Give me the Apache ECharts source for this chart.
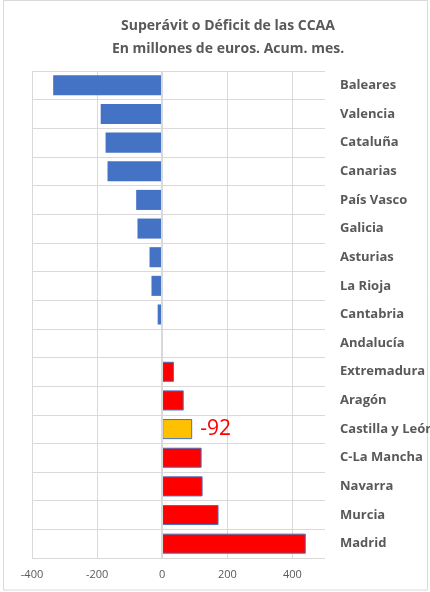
<!DOCTYPE html>
<html><head><meta charset="utf-8">
<script src="https://cdn.jsdelivr.net/npm/echarts@6/dist/echarts.min.js"></script>
<style>html,body{margin:0;padding:0;background:#fff}#c{width:430px;height:592px}</style>
</head><body><div id="c"></div>
<script>
const titleLines = ['Superávit o Déficit de las CCAA', 'En millones de euros. Acum. mes.'];
const categories = ['Baleares','Valencia','Cataluña','Canarias','País Vasco','Galicia','Asturias','La Rioja','Cantabria','Andalucía','Extremadura','Aragón','Castilla y León','C-La Mancha','Navarra','Murcia','Madrid'];
const values = [-335,-189,-174,-168,-80,-76,-39,-33,-14,0,36,66,92,121,124,173,441];
const highlightCategory = 'Castilla y León';
const highlightLabel = '-92';
const xTicks = [-400,-200,0,200,400];

const FONT = '"Open Sans", sans-serif';
const chart = echarts.init(document.getElementById('c'), null, {renderer:'canvas'});
const data = values.map((v,i) => {
  const cat = categories[i];
  let style;
  if (cat === highlightCategory) style = {color:'#FFC000', borderColor:'#4472C4', borderWidth:1};
  else if (v > 0) style = {color:'#FF0000', borderColor:'#4472C4', borderWidth:1};
  else style = {color:'#4472C4'};
  const d = {value: v, itemStyle: style};
  if (cat === highlightCategory) d.label = {show:true, position:'right', distance:8, formatter: highlightLabel, color:'#FF0000', fontSize:21, fontFamily:FONT};
  return d;
});
chart.setOption({
  animation:false,
  backgroundColor:'#fff',
  title:{text: titleLines.join('\n'), left:223, textAlign:'center', top:10,
    textStyle:{fontFamily:FONT, fontSize:14, fontWeight:'bold', color:'#595959', lineHeight:23}},
  graphic:[{type:'rect', shape:{x:3.5,y:0.5,width:424,height:589.5}, style:{fill:'none', stroke:'#D9D9D9', lineWidth:1}, silent:true}],
  grid:{left:32, right:105, top:71, bottom:34, outerBoundsMode:'none', containLabel:false},
  xAxis:{type:'value', min:xTicks[0], max:500, interval:200,
    axisLine:{show:false}, axisTick:{show:false},
    axisLabel:{color:'#595959', fontSize:11, fontFamily:FONT, margin:11, showMaxLabel:false},
    splitLine:{show:true, showMaxLine:false, lineStyle:{color:'#D9D9D9', width:1}}},
  yAxis:{type:'category', data:categories, inverse:true, position:'right',
    axisLine:{show:false}, axisTick:{show:false},
    axisLabel:{color:'#595959', fontSize:13, fontWeight:'bold', fontFamily:FONT, margin:15, align:'left'},
    splitLine:{show:true, lineStyle:{color:'#D9D9D9', width:1}}},
  series:[{type:'bar', data:data, barCategoryGap:'30%',
    markLine:{silent:true, symbol:'none', label:{show:false}, lineStyle:{color:'#D9D9D9', width:2, type:'solid'}, data:[{xAxis:0}]}}]
});
</script></body></html>
